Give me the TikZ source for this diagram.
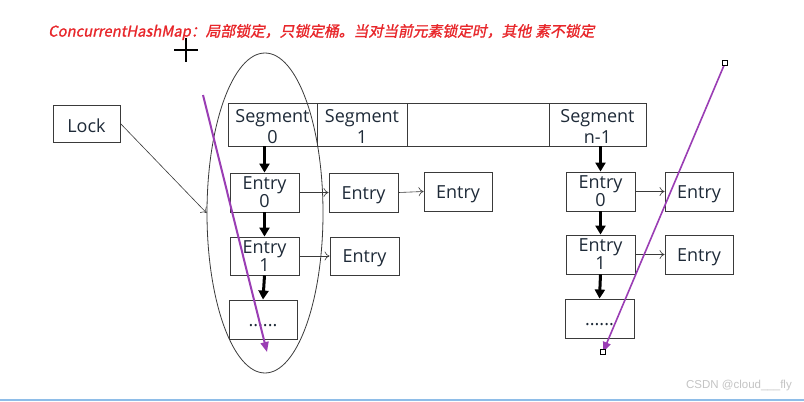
\documentclass[tikz,border=0pt]{standalone}
\usepackage{fontspec}
\setmainfont{Open Sans}
\newfontfamily\titlefont{Noto Sans CJK SC}[FakeSlant=0.2,FakeBold=1.2]
\newfontfamily\wmfont{Liberation Sans}
\usetikzlibrary{arrows.meta,shapes.geometric}
\definecolor{boxline}{HTML}{3A3A3A}
\definecolor{boxtext}{HTML}{1E2A38}
\definecolor{titlered}{HTML}{E8262A}
\definecolor{purp}{HTML}{9A3DB4}
\definecolor{wm}{HTML}{C4C4C4}
\definecolor{baseblue}{HTML}{8EBDE8}
\tikzset{
  box/.style={draw=boxline, line width=0.9pt, inner sep=0pt,
    text=boxtext, font=\fontsize{18}{19}\selectfont, minimum width=69pt, minimum height=39pt,
    text height=17.9pt, text depth=4.3pt},
  twoline/.style={box, align=center, font=\fontsize{18}{15}\selectfont,
    text height=30.6pt, text depth=0.2pt},
  segbox/.style={box, align=center, minimum height=43pt, font=\fontsize{18}{20.3}\selectfont,
    text height=37.2pt, text depth=0.2pt},
  chain/.style={line width=3pt, black, -{Triangle[length=9pt,width=10pt]}},
  link/.style={line width=0.6pt, boxline, -{To[length=5pt,width=9pt]}},
  marker/.style={line width=2pt, purp, -{Triangle[length=10pt,width=8pt]}},
  handle/.style={draw=black, fill=white, line width=0.6pt, minimum size=5pt, inner sep=0pt}
}
\begin{document}
\begin{tikzpicture}[x=1pt,y=-1pt]
\useasboundingbox (0,0) rectangle (804,402);
\fill[white] (0,0) rectangle (804,402);

% title
\node[anchor=west, inner sep=0pt, text=titlered, font=\titlefont\fontsize{14.8}{16}\selectfont] (title) at (48,32)
  {ConcurrentHashMap：局部锁定，只锁定桶。当对当前元素锁定时，其他\hspace{4pt}素不锁定};

% cursor cross
\draw[line width=1.8pt, black] (174,50) -- (198,50);
\draw[line width=1.8pt, black] (186,38) -- (186,62);

% ellipse
\node[draw=boxline, line width=0.8pt, ellipse, minimum width=116pt, minimum height=320pt, inner sep=0pt] (ell) at (265,213) {};

% lock
\node[box, minimum width=67pt, minimum height=37pt, text height=18.4pt, text depth=0pt] (lock) at (86.5,123.5) {Lock};

% segments
\node[segbox, minimum width=89pt] (seg0) at (272.5,124.5) {Segment\\0};
\node[segbox, minimum width=90pt] (seg1) at (362,124.5) {Segment\\1};
\node[segbox, minimum width=142pt] (segb) at (478,124.5) {};
\node[segbox, minimum width=97pt] (segn) at (597.5,124.5) {Segment\\n-1};

% left column
\node[twoline] (e00) at (264.5,192.5) {Entry\\0};
\node[twoline, minimum height=38pt] (e01) at (264.5,256) {Entry\\1};
\node[box, minimum width=68pt] (edots) at (263,319.5) {......};
\node[box] (e00b) at (363.5,192.5) {Entry};
\node[box, minimum width=68pt] (e00c) at (458,191.5) {Entry};
\node[box, minimum height=38pt] (e01b) at (364.5,256) {Entry};

% right column
\node[twoline] (r0) at (600.5,191.5) {Entry\\0};
\node[twoline] (r1) at (600.5,254.5) {Entry\\1};
\node[box] (rdots) at (599.5,318.5) {......};
\node[box, minimum width=68pt] (r0b) at (699,191.5) {Entry};
\node[box, minimum width=68pt] (r1b) at (699,254.5) {Entry};

% chains
\draw[chain] (e00.north |- seg0.south) -- (e00.north);
\draw[chain] (e00.south) -- (e01.north);
\draw[chain] (e01.south) -- (edots.north);
\draw[chain] (r0.north |- segn.south) -- (r0.north);
\draw[chain] (r0.south) -- (r1.north);
\draw[chain] (r1.south) -- (rdots.north);

% links
\draw[link] (e00.east) -- (e00b.west);
\draw[link] (e00b.east) -- (e00c.west);
\draw[link] (e01.east) -- (e01b.west);
\draw[link] (r0.east) -- (r0b.west);
\draw[link] (r1.east) -- (r1b.west);
\draw[link] (lock.east) -- (ell.west);

% purple markers
\coordinate (p1s) at (203,95);
\coordinate (p1e) at (267,352);
\coordinate (p2s) at (725,63);
\coordinate (p2e) at (603,352);
\draw[marker] (p1s) -- (p1e);
\draw[marker, line width=1.6pt] (p2s) -- (p2e);
\node[handle] at (p2s) {};
\node[handle] at (p2e) {};

% watermark and base line
\node[anchor=east, inner sep=0pt, text=wm, font=\wmfont\fontsize{11.5}{12}\selectfont] (wmk) at (792,386) {CSDN @cloud\_\_\_fly};
\draw[baseblue, line width=1.5pt] (0,400) -- (804,400);
\end{tikzpicture}
\end{document}
